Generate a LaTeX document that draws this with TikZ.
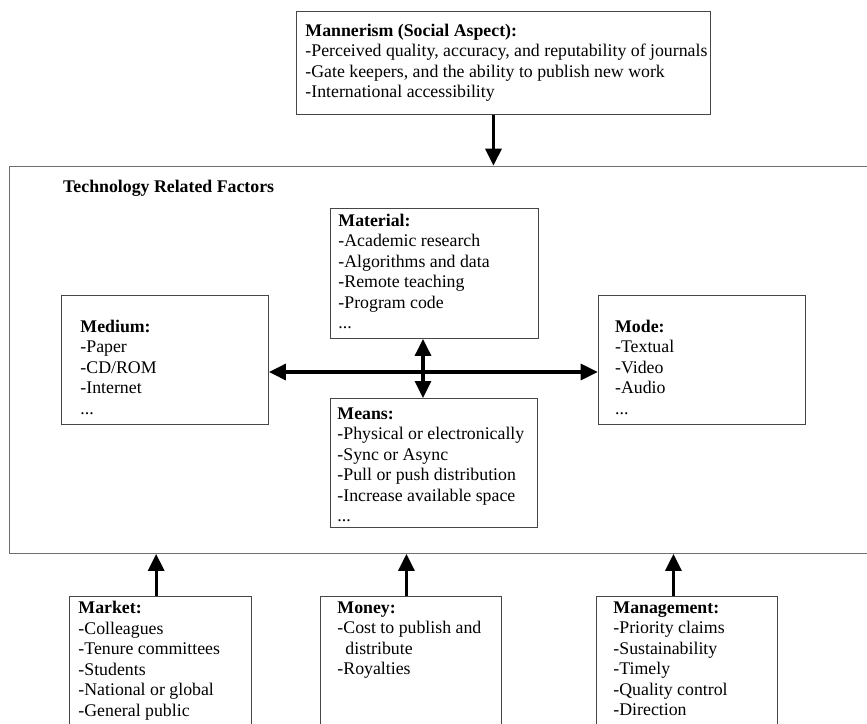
\documentclass[tikz,border=0pt]{standalone}
\usepackage{fontspec}
\setmainfont{Liberation Serif}
\usepackage{tikz}
\usetikzlibrary{arrows.meta,positioning}
\definecolor{boxGray}{RGB}{70,70,70}
\definecolor{frameGray}{RGB}{110,110,110}

\newcommand{\factorlist}[5]{%
  \parbox[t][#2][t]{#1}{\fontsize{17.8}{20.5}\selectfont
    \setlength{\leftskip}{#4}\setlength{\rightskip}{-30pt}%
    \rule{0pt}{#3}#5}}

\begin{document}
\begin{tikzpicture}[
  x=1pt, y=-1pt,
  factor/.style={
    draw=boxGray,
    line width=0.9pt,
    inner sep=0pt,
    anchor=north west
  },
  link/.style={line width=3.2pt, -{Triangle[length=17pt,width=16pt]}},
  duplex/.style={line width=3.2pt,
    {Triangle[length=17pt,width=16pt]}-{Triangle[length=17pt,width=16pt]}}
]
  \useasboundingbox (0,0) rectangle (867,723);
  \clip (0,0) rectangle (867,723);

  \node[factor, draw=frameGray, line width=1.2pt,
    minimum width=880pt, minimum height=387pt] (tech) at (9,165.7) {};
  \node[anchor=base west, inner sep=0pt,
    font=\fontsize{17.8}{20.5}\selectfont\bfseries] (techtitle) at (63,192.7)
    {Technology Related Factors};

  \node[factor] (mannerism) at (296,10.7)
    {\factorlist{414pt}{103.3pt}{25.3pt}{9pt}{\textbf{Mannerism (Social Aspect):}\\
     -Perceived quality, accuracy, and reputability of journals\\
     -Gate keepers, and the ability to publish new work\\
     -International accessibility}};

  \node[factor] (material) at (330,208)
    {\factorlist{208pt}{130pt}{17.7pt}{8pt}{\textbf{Material:}\\
     -Academic research\\-Algorithms and data\\-Remote teaching\\-Program code\\...}};
  \node[factor] (medium) at (61,295)
    {\factorlist{207pt}{129pt}{37pt}{19pt}{\textbf{Medium:}\\
     -Paper\\-CD/ROM\\-Internet\\...}};
  \node[factor] (mode) at (597.7,295)
    {\factorlist{207.3pt}{129pt}{37pt}{17pt}{\textbf{Mode:}\\
     -Textual\\-Video\\-Audio\\...}};
  \node[factor] (means) at (330,398)
    {\factorlist{207pt}{129pt}{21pt}{7pt}{\textbf{Means:}\\
     -Physical or electronically\\-Sync or Async\\-Pull or push distribution\\
     -Increase available space\\...}};

  \node[factor] (market) at (69,596)
    {\factorlist{182pt}{150pt}{17.3pt}{9pt}{\textbf{Market:}\\
     -Colleagues\\-Tenure committees\\-Students\\-National or global\\-General public}};
  \node[factor] (money) at (320,596)
    {\factorlist{181pt}{150pt}{17pt}{17pt}{\textbf{Money:}\\
     -Cost to publish and\\\hspace*{0.45em}distribute\\-Royalties}};
  \node[factor] (management) at (596,596)
    {\factorlist{181pt}{150pt}{17pt}{17pt}{\textbf{Management:}\\
     -Priority claims\\-Sustainability\\-Timely\\-Quality control\\-Direction}};

  \coordinate (hub) at (423,372);
  \draw[link] ([xshift=-10pt]mannerism.south) -- ([xshift=-10pt]mannerism.south |- tech.north);
  \draw[duplex] (hub |- material.south) -- (hub |- means.north);
  \draw[duplex] (medium.east |- hub) -- (mode.west |- hub);
  \draw[link] ([xshift=-4.3pt]market.north) -- ([xshift=-4.3pt]market.north |- tech.south);
  \draw[link] ([xshift=-4.5pt]money.north) -- ([xshift=-4.5pt]money.north |- tech.south);
  \draw[link] ([xshift=-13.5pt]management.north) -- ([xshift=-13.5pt]management.north |- tech.south);
\end{tikzpicture}
\end{document}
